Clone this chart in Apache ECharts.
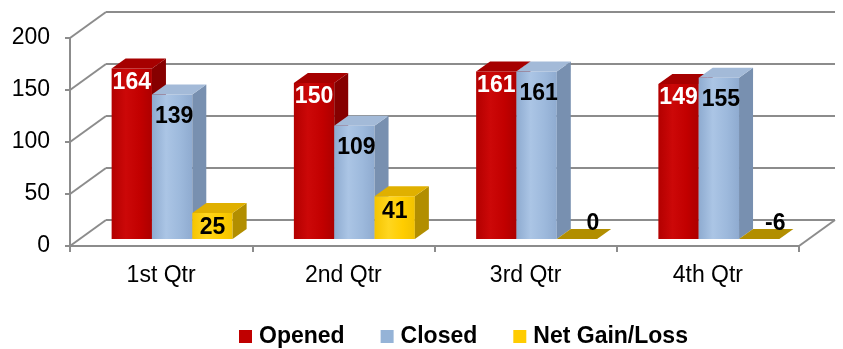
<!DOCTYPE html>
<html>
<head>
<meta charset="utf-8">
<script src="https://cdn.jsdelivr.net/npm/echarts@6/dist/echarts.min.js"></script>
<style>
  html, body { margin: 0; padding: 0; background: #ffffff; }
  #chart { width: 843px; height: 349px; }
</style>
</head>
<body>
<div id="chart"></div>
<script>
// Quarterly account activity
const categories = ['1st Qtr', '2nd Qtr', '3rd Qtr', '4th Qtr'];
const opened = [164, 150, 161, 149];
const closed = [139, 109, 161, 155];
const netGainLoss = [25, 41, 0, -6];
const seriesNames = ['Opened', 'Closed', 'Net Gain/Loss'];
const valueTicks = [0, 50, 100, 150, 200];

const Y_MIN = 0, Y_MAX = 200, Y_STEP = 50;
const FONT = '"Liberation Sans", Arial, sans-serif';
const LINE_COLOR = '#8c8c8c';

// Pseudo-3D geometry (pixels): back wall offset, bar plane offset, bar depth
const WALL = { dx: 36, dy: -26 };
const PLANE = { dx: 11, dy: -7 };
const DEPTH = { dx: 14, dy: -10 };
const BAR_FRACTION = 0.2213; // one bar's width as a share of the category band

const palettes = [
  { base: '#c00000', front: ['#b30000', '#cc0808', '#c20000', '#ad0000'], top: '#a60000', side: '#860000', label: '#ffffff', drop: 14 },
  { base: '#95b3d7', front: ['#8eabd0', '#abc5e5', '#9db9dc', '#8fabd0'], top: '#a3bad8', side: '#7890b0', label: '#000000', drop: 22 },
  { base: '#ffcc00', front: ['#f5c400', '#ffd61f', '#ffcd00', '#f2c200'], top: '#e0b000', side: '#b28e00', label: '#000000', drop: 15 }
];

function gradient(stops) {
  return {
    type: 'linear', x: 0, y: 0, x2: 1, y2: 0,
    colorStops: [
      { offset: 0, color: stops[0] },
      { offset: 0.35, color: stops[1] },
      { offset: 0.7, color: stops[2] },
      { offset: 1, color: stops[3] }
    ]
  };
}

function barRenderer(k) {
  const pal = palettes[k];
  return function (params, api) {
    const ci = api.value(0);
    const v = api.value(1);
    const base = api.coord([ci, Y_MIN]);
    const band = api.size([1, 0])[0];
    const bw = band * BAR_FRACTION;
    const x0 = base[0] - 1.5 * bw + k * bw + PLANE.dx;
    const yBase = base[1] + PLANE.dy;
    const shown = Math.max(v, Y_MIN); // clipped at the axis floor
    const yTop = api.coord([ci, shown])[1] + PLANE.dy;
    const children = [];
    if (yBase - yTop > 0.01) {
      children.push({
        type: 'rect',
        shape: { x: x0, y: yTop, width: bw, height: yBase - yTop },
        style: { fill: gradient(pal.front) }
      });
      children.push({
        type: 'polygon',
        shape: { points: [[x0 + bw, yTop], [x0 + bw, yBase], [x0 + bw + DEPTH.dx, yBase + DEPTH.dy], [x0 + bw + DEPTH.dx, yTop + DEPTH.dy]] },
        style: { fill: pal.side }
      });
    }
    children.push({
      type: 'polygon',
      shape: { points: [[x0, yTop], [x0 + bw, yTop], [x0 + bw + DEPTH.dx, yTop + DEPTH.dy], [x0 + DEPTH.dx, yTop + DEPTH.dy]] },
      style: { fill: v > 0 ? pal.top : pal.side }
    });
    let lx, ly;
    if (v > 0) {
      lx = x0 + bw / 2 + (k === 1 ? 2 : 0);
      ly = yTop + pal.drop;
    } else {
      lx = x0 + bw / 2 + 16;
      ly = yBase - 15;
    }
    children.push({
      type: 'text',
      style: {
        text: String(v), x: lx, y: ly, align: 'center', verticalAlign: 'middle',
        fill: pal.label, font: 'bold 23px ' + FONT
      }
    });
    return { type: 'group', children: children };
  };
}

function seriesData(values) {
  return values.map(function (v, i) { return [i, v]; });
}

const chart = echarts.init(document.getElementById('chart'), null, { renderer: 'canvas' });

const option = {
  backgroundColor: '#ffffff',
  animation: false,
  legend: {
    data: seriesNames,
    top: 320,
    left: 234,
    icon: 'rect',
    itemWidth: 13,
    itemHeight: 13,
    itemGap: 36,
    textStyle: { fontFamily: FONT, fontSize: 23, fontWeight: 'bold', color: '#000000', padding: [0, 0, 0, 2] }
  },
  grid: [
    // front plane: value axis and category axis
    { left: 70, top: 38, width: 729, height: 208, containLabel: false },
    // back wall: gridlines
    { left: 70 + WALL.dx, top: 38 + WALL.dy, width: 729, height: 208, containLabel: false }
  ],
  xAxis: [
    {
      type: 'category', gridIndex: 0, data: categories, boundaryGap: true,
      axisLine: { show: true, lineStyle: { color: LINE_COLOR, width: 2 } },
      axisTick: { show: true, length: 6, alignWithLabel: false, lineStyle: { color: LINE_COLOR, width: 2 } },
      axisLabel: { fontFamily: FONT, fontSize: 23, color: '#000000', margin: 18 },
      splitLine: { show: false }
    },
    {
      type: 'category', gridIndex: 1, data: categories, show: false
    }
  ],
  yAxis: [
    {
      type: 'value', gridIndex: 0, min: Y_MIN, max: Y_MAX, interval: Y_STEP,
      axisLine: { show: true, lineStyle: { color: LINE_COLOR, width: 2 } },
      axisTick: { show: true, length: 5, inside: false, lineStyle: { color: LINE_COLOR, width: 2 } },
      axisLabel: { fontFamily: FONT, fontSize: 23, color: '#000000', margin: 20 },
      splitLine: { show: false }
    },
    {
      type: 'value', gridIndex: 1, min: Y_MIN, max: Y_MAX, interval: Y_STEP,
      axisLine: { show: false }, axisTick: { show: false }, axisLabel: { show: false },
      splitLine: { show: true, lineStyle: { color: LINE_COLOR, width: 2 } }
    }
  ],
  series: [
    {
      // side wall and floor edges joining the front plane to the back wall
      type: 'custom', name: 'walls', xAxisIndex: 0, yAxisIndex: 0, silent: true, z: 1,
      data: valueTicks.map(function (t) { return [0, t]; }),
      renderItem: function (params, api) {
        const cs = params.coordSys;
        const y = api.coord([0, api.value(1)])[1];
        const line = { stroke: LINE_COLOR, lineWidth: 2 };
        const children = [{
          type: 'line', shape: { x1: cs.x, y1: y, x2: cs.x + WALL.dx, y2: y + WALL.dy }, style: line
        }];
        if (api.value(1) === Y_MIN) {
          children.push({
            type: 'line', shape: { x1: cs.x + cs.width, y1: y, x2: cs.x + cs.width + WALL.dx, y2: y + WALL.dy }, style: line
          });
        }
        return { type: 'group', children: children };
      }
    },
    {
      type: 'custom', name: seriesNames[0], xAxisIndex: 0, yAxisIndex: 0, z: 3,
      itemStyle: { color: palettes[0].base },
      data: seriesData(opened), renderItem: barRenderer(0)
    },
    {
      type: 'custom', name: seriesNames[1], xAxisIndex: 0, yAxisIndex: 0, z: 4,
      itemStyle: { color: palettes[1].base },
      data: seriesData(closed), renderItem: barRenderer(1)
    },
    {
      type: 'custom', name: seriesNames[2], xAxisIndex: 0, yAxisIndex: 0, z: 5,
      itemStyle: { color: palettes[2].base },
      data: seriesData(netGainLoss), renderItem: barRenderer(2)
    }
  ]
};

chart.setOption(option);
</script>
</body>
</html>
